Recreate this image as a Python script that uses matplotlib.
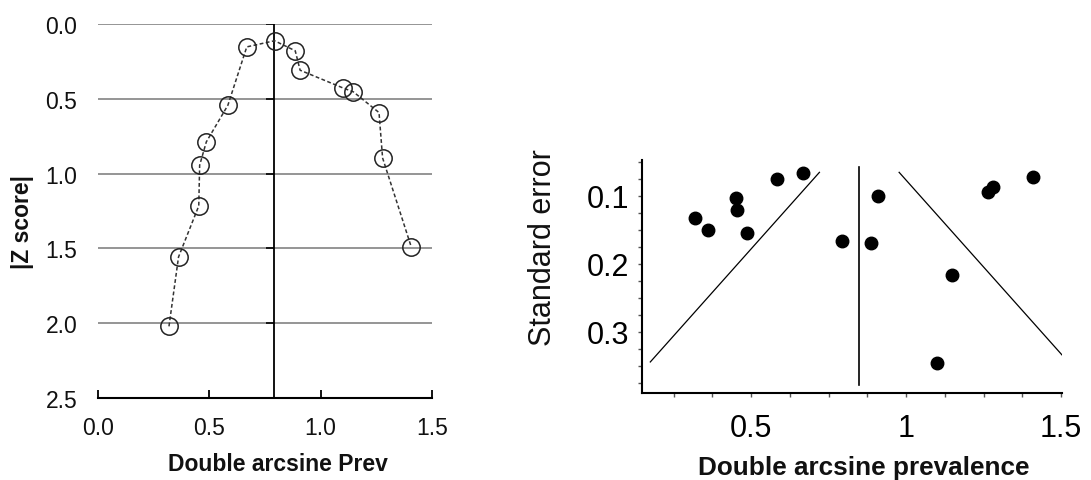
import numpy as np
import matplotlib
matplotlib.use("Agg")
import matplotlib.pyplot as plt
from matplotlib.ticker import MultipleLocator, FormatStrFormatter

plt.rcParams['font.family'] = ['Liberation Sans', 'DejaVu Sans']

# per-study double arcsine prevalence, |Z| score and standard error
prev = [0.318, 0.361, 0.452, 0.456, 0.486, 0.583, 0.668, 0.793, 0.886,
        0.908, 1.100, 1.148, 1.263, 1.279, 1.408]
z_abs = [2.021, 1.557, 1.216, 0.944, 0.788, 0.543, 0.153, 0.112, 0.179,
         0.309, 0.427, 0.454, 0.592, 0.895, 1.490]
se = [0.132, 0.150, 0.103, 0.121, 0.154, 0.076, 0.066, 0.167, 0.170,
      0.100, 0.346, 0.216, 0.094, 0.087, 0.073]

pooled_left = 0.792
pooled_right = 0.849
funnel_se = np.array([0.0656, 0.344])
grid_z = [0.0, 0.5, 1.0, 1.5, 2.0]

W, H = 1091, 481
fig = plt.figure(figsize=(W / 100, H / 100), dpi=100)
txt = '#111111'

# ---- left: |Z| against prevalence ----
ax1 = fig.add_axes([98.3 / W, 1 - 399 / H, 333.4 / W, 374 / H])
ax1.set_xlim(0, 1.5)
ax1.set_ylim(2.5, 0)
for z in grid_z:
    ax1.axhline(z, color='#8c8c8c', lw=1.3, zorder=1)
ax1.plot([pooled_left, pooled_left], [0, 2.5], color='k', lw=1.3, zorder=2)
ax1.plot([pooled_left] * len(grid_z), grid_z, ls='none', marker=0,
         ms=6, mew=1.2, color='k', zorder=2)
ax1.plot(prev, z_abs, ls=(0, (2.5, 1.6)), lw=1.1, color='#333333',
         marker='o', ms=12.5, mfc='none', mec='#222222', mew=1.1,
         zorder=3, clip_on=False)
for s in ['top', 'right', 'left']:
    ax1.spines[s].set_visible(False)
ax1.spines['bottom'].set_linewidth(1.5)
ax1.set_xticks([0, 0.5, 1.0, 1.5])
ax1.set_yticks([0, 0.5, 1.0, 1.5, 2.0, 2.5])
ax1.xaxis.set_major_formatter(FormatStrFormatter('%.1f'))
ax1.yaxis.set_major_formatter(FormatStrFormatter('%.1f'))
ax1.tick_params(axis='x', direction='in', length=6, width=1.3,
                pad=13, labelsize=16.5, labelcolor=txt)
ax1.tick_params(axis='y', length=0, pad=15, labelsize=16.5, labelcolor=txt)
fig.text(278 / W, 1 - 465 / H, 'Double arcsine Prev', ha='center',
         va='center', fontsize=16.5, fontweight='bold', color=txt)
fig.text(23 / W, 1 - 222 / H, '|Z score|', ha='center', va='center',
         rotation=90, fontsize=16.5, fontweight='bold', color=txt)

# ---- right: funnel plot ----
ax2 = fig.add_axes([642 / W, 1 - 394.3 / H, 420 / W, 233.3 / H])
ax2.set_xlim(0.148, 1.503)
ax2.set_ylim(0.390, 0.0475)
ax2.plot(prev, se, ls='none', marker='o', ms=9, color='k', zorder=3)
ax2.plot([pooled_right, pooled_right], [0.058, 0.378], color='k', lw=1.2)
ax2.plot(pooled_right - 1.96 * funnel_se, funnel_se, color='k', lw=0.9)
ax2.plot(pooled_right + 1.96 * funnel_se, funnel_se, color='k', lw=0.9)
for s in ['top', 'right']:
    ax2.spines[s].set_visible(False)
for s in ['left', 'bottom']:
    ax2.spines[s].set_linewidth(1.5)
ax2.set_xticks([0.5, 1.0, 1.5])
ax2.set_xticklabels(['0.5', '1', '1.5'])
ax2.xaxis.set_minor_locator(MultipleLocator(0.125))
ax2.set_yticks([0.1, 0.2, 0.3])
ax2.set_yticklabels(['0.1', '0.2', '0.3'])
ax2.yaxis.set_minor_locator(MultipleLocator(0.025))
ax2.tick_params(which='both', direction='out', length=3, width=1,
                color='#555555')
ax2.tick_params(axis='x', which='major', pad=11, labelsize=22)
ax2.tick_params(axis='y', which='major', pad=6, labelsize=22)
fig.text(864 / W, 1 - 468 / H, 'Double arcsine prevalence', ha='center',
         va='center', fontsize=18.8, fontweight='bold', color=txt)
fig.text(543 / W, 1 - 248 / H, 'Standard error', ha='center',
         va='center', rotation=90, fontsize=22, color=txt)

fig.savefig('out.png', dpi=100)
